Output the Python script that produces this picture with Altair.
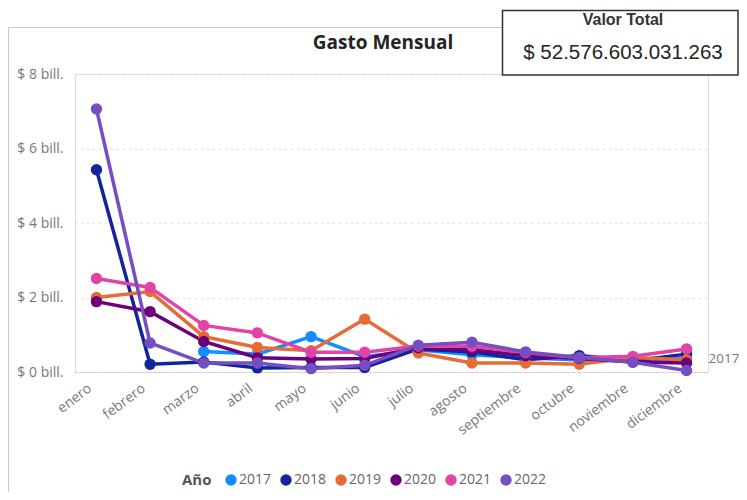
import altair as alt
import pandas as pd

meses = ["enero", "febrero", "marzo", "abril", "mayo", "junio", "julio",
         "agosto", "septiembre", "octubre", "noviembre", "diciembre"]
anios = ["2017", "2018", "2019", "2020", "2021", "2022"]
# valores en billones de pesos
v2017 = [None, None, 0.55, 0.48, 0.95, 0.41, 0.60, 0.46, 0.38, 0.32, 0.30, 0.36]
v2018 = [5.43, 0.21, 0.27, 0.11, 0.12, 0.12, 0.62, 0.54, 0.33, 0.44, 0.30, 0.48]
v2019 = [2.00, 2.16, 0.95, 0.66, 0.57, 1.42, 0.51, 0.24, 0.24, 0.21, 0.39, 0.33]
v2020 = [1.89, 1.62, 0.82, 0.38, 0.35, 0.36, 0.65, 0.60, 0.44, 0.36, 0.27, 0.24]
v2021 = [2.51, 2.27, 1.25, 1.05, 0.53, 0.53, 0.70, 0.69, 0.52, 0.38, 0.42, 0.62]
v2022 = [7.06, 0.78, 0.24, 0.24, 0.09, 0.18, 0.72, 0.80, 0.54, 0.39, 0.26, 0.04]
colores = ["#118DFF", "#12239E", "#E66C37", "#6B007B", "#E044A7", "#744EC2"]
y_ticks = [0, 2, 4, 6, 8]
titulo = "Gasto Mensual"
tarjeta_titulo = "Valor Total"
tarjeta_valor = "$ 52.576.603.031.263"
etiqueta_serie = "2017"

series = [v2017, v2018, v2019, v2020, v2021, v2022]
rows = []
for anio, vals in zip(anios, series):
    for mes, v in zip(meses, vals):
        if v is not None:
            rows.append({"Mes": mes, "Año": anio, "Valor": v})
df = pd.DataFrame(rows)

FONT = "Open Sans"

x_enc = alt.X("Mes:N", sort=meses,
              scale=alt.Scale(type="point", padding=0.4),
              axis=alt.Axis(title=None, labelAngle=-37, labelFontSize=14,
                            labelColor="#777", labelFont=FONT, ticks=False,
                            domain=False, grid=False, labelPadding=9,
                            labelOffset=-11, labelAlign="right",
                            labelBaseline="top"))
y_enc = alt.Y("Valor:Q", scale=alt.Scale(domain=[0, 8], nice=False),
              axis=alt.Axis(title=None, values=y_ticks,
                            labelExpr="'$ ' + datum.value + ' bill.'",
                            labelFontSize=14, labelColor="#777", labelFont=FONT,
                            ticks=False, domain=False, grid=True,
                            gridDash=[1, 5], gridColor="#bbbbbb",
                            labelPadding=12))
color_scale = alt.Scale(domain=anios, range=colores)
leyenda = alt.Legend(title="Año", orient="none", legendX=107, legendY=399,
                     direction="horizontal", titleOrient="left",
                     symbolType="circle", symbolSize=130, symbolStrokeWidth=0,
                     labelFontSize=14, titleFontSize=15, labelColor="#666",
                     titleColor="#555", labelFont=FONT, titleFont=FONT,
                     columnPadding=7, labelOffset=1, titlePadding=12)

one = pd.DataFrame({"k": [0]})

frame_left = alt.Chart(one).mark_rule(stroke="#c8c8c8", strokeWidth=1).encode(
    x=alt.value(-66.5), y=alt.value(-46.5), y2=alt.value(440))
frame_top = alt.Chart(one).mark_rule(stroke="#c8c8c8", strokeWidth=1).encode(
    x=alt.value(-66.5), x2=alt.value(440), y=alt.value(-46.5))

lines = alt.Chart(df).mark_line(strokeWidth=3.5).encode(
    x=x_enc, y=y_enc,
    color=alt.Color("Año:N", scale=color_scale, legend=leyenda))

points = alt.Chart(df).mark_circle(size=130, opacity=1).encode(
    x=x_enc, y=y_enc,
    color=alt.Color("Año:N", scale=color_scale, legend=leyenda))

serie_label = alt.Chart(df).transform_filter(
    (alt.datum["Año"] == etiqueta_serie) & (alt.datum["Mes"] == "diciembre")
).mark_text(align="left", baseline="middle", dx=22, fontSize=13.5,
            color="#777", font=FONT).encode(
    x=x_enc, y=y_enc, text=alt.value(etiqueta_serie))

title = alt.Chart(one).mark_text(fontSize=19, fontWeight="bold", color="#252423",
                                 font=FONT, align="center", baseline="middle").encode(
    x=alt.value(308), y=alt.value(-31), text=alt.value(titulo))

card = alt.Chart(one).mark_rect(fill="white", stroke="#333333", strokeWidth=1.5).encode(
    x=alt.value(427.5), x2=alt.value(663), y=alt.value(-63.5), y2=alt.value(1))

card_t = alt.Chart(one).mark_text(fontSize=16, fontWeight="bold", color="#333",
                                  font="Liberation Sans", align="center",
                                  baseline="middle").encode(
    x=alt.value(548), y=alt.value(-54), text=alt.value(tarjeta_titulo))

card_v = alt.Chart(one).mark_text(fontSize=20.5, color="#252423",
                                  font="Liberation Sans", align="center",
                                  baseline="middle").encode(
    x=alt.value(548), y=alt.value(-21), text=alt.value(tarjeta_valor))

chart = alt.layer(frame_left, frame_top, lines, points, serie_label, title,
                  card, card_t, card_v).properties(
    width=633, height=298,
    autosize=alt.AutoSizeParams(type="none"),
    padding={"left": 67, "top": 66, "right": 31, "bottom": 120},
).configure_view(stroke="transparent", strokeWidth=0
).configure_axis(domain=False
).configure(background="white")

chart.save("out.html", embed_options={"renderer": "svg", "actions": False})
